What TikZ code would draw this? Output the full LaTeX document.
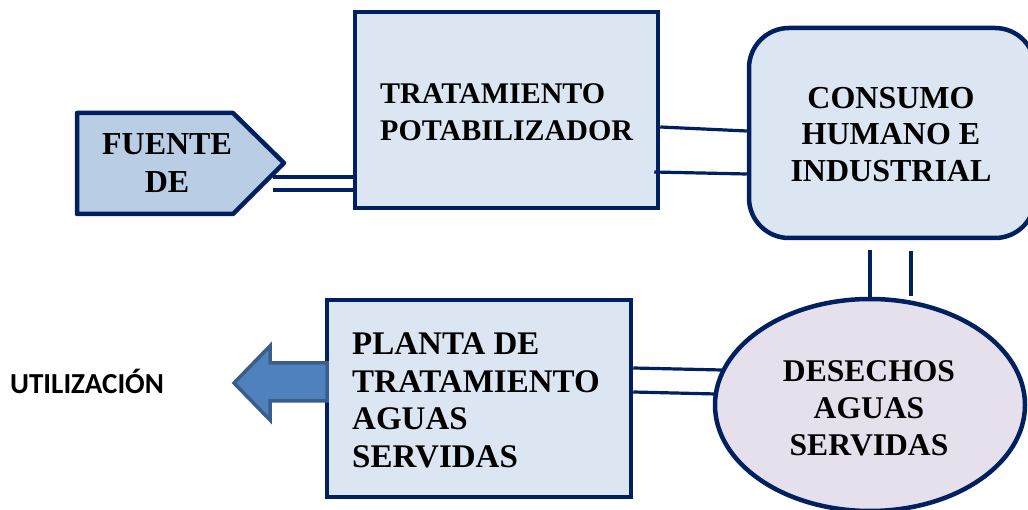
\documentclass[tikz,border=0pt]{standalone}
\usepackage{fontspec}
\setmainfont{Liberation Serif}
\newfontfamily\carl{Carlito}
\usetikzlibrary{shapes.geometric,calc}
\definecolor{navy}{HTML}{002060}
\definecolor{boxfill}{HTML}{DCE6F2}
\definecolor{srcfill}{HTML}{B9CDE5}
\definecolor{elfill}{HTML}{E6E0EC}
\definecolor{arfill}{HTML}{4F81BD}
\definecolor{arline}{HTML}{3A5E8C}
\tikzset{
  blk/.style={draw=navy, line width=4.5pt, fill=boxfill, rectangle},
  lbl/.style={inner sep=0pt, anchor=north},
  pipe/.style={draw=navy, line width=3.2pt},
}
\begin{document}
\begin{tikzpicture}[x=1pt,y=-1pt]
\useasboundingbox (0,0) rectangle (1028,510);
% source pentagon
\draw[draw=navy, line width=4.5pt, fill=srcfill, line join=round]
  (77,113) -- (233,113) -- (284,163) -- (233,214) -- (77,214) -- cycle;
\node[lbl, align=center, font=\fontsize{32}{38}\selectfont\bfseries] (fuente) at (167,133) {FUENTE\\DE};
\coordinate (fuenteout) at (273,183);
% treatment box
\node[blk, minimum width=303pt, minimum height=196pt] (trat) at (506.5,110) {};
\node[lbl, align=left, anchor=north west,
  font=\fontsize{30}{37}\selectfont\bfseries] (tratt) at (380,83) {TRATAMIENTO\\POTABILIZADOR};
% consumption box
\node[blk, rounded corners=40pt, minimum width=286pt, minimum height=210pt] (cons) at (892,133) {};
\node[lbl, align=center, font=\fontsize{32}{36.5}\selectfont\bfseries] (const) at (891,87) {CONSUMO\\HUMANO E\\INDUSTRIAL};
% waste ellipse
\node[draw=navy, line width=4.5pt, fill=elfill, ellipse, minimum width=310pt, minimum height=212pt, inner sep=0pt] (des) at (870,405) {};
\node[lbl, align=center, font=\fontsize{31.6}{37}\selectfont\bfseries] (dest) at (869,360) {DESECHOS\\AGUAS\\SERVIDAS};
% plant box
\node[blk, minimum width=304pt, minimum height=197pt] (plan) at (479,398.5) {};
\node[lbl, align=left, anchor=north west,
  font=\fontsize{33}{37.5}\selectfont\bfseries] (plant) at (352,333) {PLANTA DE\\TRATAMIENTO\\AGUAS\\SERVIDAS};
% arrow out
\draw[draw=arline, line width=3.5pt, fill=arfill, line join=miter]
  (327,363) -- (270,363) -- (270,346) -- (234,383) -- (270,420) -- (270,401) -- (327,401) -- cycle;
\coordinate (arrtip) at (234,383);
\node[font=\carl\bfseries\fontsize{29}{32}\selectfont, anchor=base west, inner sep=0pt] (util) at (10,393) {UTILIZACIÓN};
% pipes
\draw[pipe] (fuenteout |- 0,177) -- (trat.west |- 0,177);
\draw[pipe] (fuenteout |- 0,190) -- (trat.west |- 0,190);
\draw[pipe] (trat.east |- 0,127) -- (cons.west |- 0,131);
\draw[pipe] ($(trat.east |- 0,172)+(-6,0)$) -- (cons.west |- 0,174);
\draw[pipe] (870,250) coordinate (v1) -- (v1 |- des.north);
\draw[pipe] (911,251) coordinate (v2) -- (911,296);
\draw[pipe] (plan.east |- 0,368) -- (722,370);
\draw[pipe] (plan.east |- 0,392) -- (716,394);
\end{tikzpicture}
\end{document}
